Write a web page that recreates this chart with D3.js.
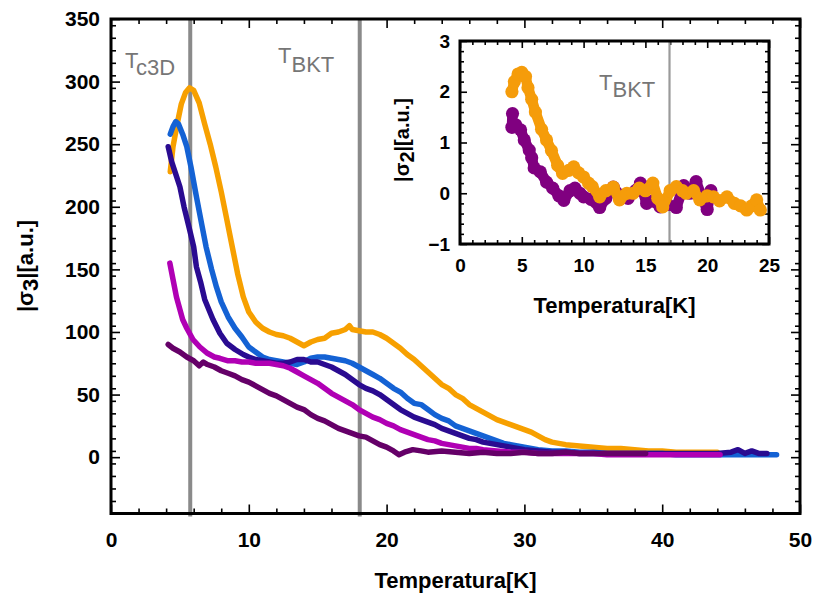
<!DOCTYPE html>
<html><head><meta charset="utf-8">
<script src="https://cdn.jsdelivr.net/npm/d3@7"></script>
<style>
body{margin:0;background:#fff}
svg{display:block}
text{font-family:"Liberation Sans",Arial,Helvetica,sans-serif}
</style>
</head><body>
<svg id="chart" width="815" height="600"></svg>
<script>
// ---------- main panel data: |sigma3| vs temperature ----------
const orangeT=[4.3,4.5,4.8,5.1,5.4,5.7,6.0,6.4,6.8,7.2,7.6,8.0,8.4,8.8,9.2,9.6,10.0,10.5,11.0,11.5,12.0,12.5,13.0,13.5,14.0,14.5,15.0,15.5,16.0,16.5,17.0,17.3,17.5,18.0,18.5,19.0,19.5,20.0,20.5,21.0,21.5,22.0,22.5,23.0,23.5,24.0,24.5,25.0,25.5,26.0,26.5,27.0,27.5,28.0,28.5,29.0,29.5,30.0,30.5,31.0,31.5,32.0,33,34,35,36,37,38,39,40,41,42,43,44];
const orangeV=[228,248,266,282,291,295,293,283,266,250,232,212,190,168,146,128,116,108,103,100,98,97,95,92,89,92,94,95,99,100,102,105,102,101,100,100,98,95,91,87,82,78,73,68,63,58,55,50,47,42,39,36,33,30,28,26,24,22,20,17,14,12,10,9,8,7,7,6,5,5,4,4,4,4];

const blueT=[4.3,4.5,4.7,4.9,5.2,5.5,5.8,6.2,6.6,6.9,7.3,7.65,8.0,8.5,9.0,9.5,10.0,10.5,11.0,11.5,12.0,12.5,13.0,13.5,14.0,14.5,15.0,15.5,16.0,16.5,17.0,17.5,18.0,18.5,19.0,19.5,20.0,20.5,21.0,21.5,22.0,22.5,23,23.5,24,24.5,25,25.5,26,26.5,27,27.5,28,28.5,29,29.5,30,31,32,33,34,35,36,37,38,39,40,41,42,43,44,45,46,47,48,48.3];
const blueV=[258,264,268,266,258,248,232,208,185,168,150,136,124,112,103,96,88,84,80,78,77,76,75,74,76,79,80,80,79,78,77,75,72,69,66,63,59,55,52,47,43,42,38,34,31,29,25,23,21,19,17,15,13,11,10,9,8,6,5,5,4,4,3,3,3,3,3,2,2,2,2,2,2,2,2,2];

const indigoT=[4.15,4.4,4.7,5.0,5.3,5.7,6.0,6.2,6.5,6.8,7.4,7.9,8.4,9.0,9.6,10.0,10.5,11.0,11.5,12.0,12.5,13.0,13.5,14.0,14.5,15.0,15.5,16.0,16.5,17.0,17.5,18.0,18.5,19.0,19.5,20.0,20.5,21.0,21.5,22.0,22.5,23,23.5,24,24.5,25,25.5,26,26.5,27,27.5,28,28.5,29,29.5,30,31,32,33,34,35,36,37,38,39,40,41,42,43,44,45,45.5,46,46.5,47,47.6];
const indigoV=[248,236,226,216,200,182,168,152,140,126,110,99,91,86,82,80,78,77,76,75,75,76,78,78,76,76,74,72,69,66,62,58,55,53,50,46,42,38,35,32,30,28,26,23,21,19,17,15,14,12,11,10,9,8,7,6,5,4,4,3,3,3,3,3,3,3,3,3,3,3,4,6,3,5,3,3];

const magentaT=[4.27,4.5,4.75,5.0,5.2,5.5,5.95,6.45,7.0,7.5,7.9,8.5,9.0,9.5,10.0,10.5,11.0,11.5,12.0,12.5,13.0,13.5,14.0,14.5,15.0,15.5,16.0,16.5,17.0,17.5,18.0,18.5,19.0,19.5,20.0,20.5,21.0,21.5,22.0,22.5,23,23.5,24,24.5,25,25.5,26,26.5,27,28,29,30,31,32,33,34,35,36,37,38,39,40,41,42,43,44.2];
const magentaV=[155,142,128,118,110,103,94,88,83,80,79,77,77,76,76,75,75,75,74,73,71,68,65,62,59,55,51,48,45,42,38,35,32,30,27,25,22,20,18,16,14,13,11,10,9,8,7,7,6,5,4,4,3,3,3,3,3,2,2,2,2,2,2,2,2,2];

const plumT=[4.15,4.5,5.0,5.5,6.0,6.4,6.7,7.0,7.5,8.0,8.5,9.0,9.5,10.0,10.5,11.0,11.5,12.0,12.5,13.0,13.5,14.0,14.5,15.0,15.5,16.0,16.5,17.0,17.5,18.0,18.5,19.0,19.5,20.0,20.5,20.9,21.3,21.9,22.5,23,24,25,26,27,28,29,30,31,32,33,34,35,36,37,38,38.8];
const plumV=[90,87,84,80,77,73,76,74,72,69,67,65,62,60,57,54,51,49,46,43,40,38,34,31,29,26,23,21,19,17,16,13,10,8,5,2,4,6,5,4,5,4,3,4,3,3,4,3,3,4,3,3,3,3,3,3];

// ---------- inset data: |sigma2| vs temperature ----------
const insetPurpleT=[4.25,4.2,4.5,4.9,5.2,5.6,5.8,6.0,6.5,7.0,7.5,8.0,8.4,8.9,9.3,9.7,10.0,10.6,11.3,11.8,12.4,13.0,13.6,14.2,14.6,15.1,15.6,16.2,16.8,17.5,18.1,18.6,19.1,19.6,20.0,20.3];
const insetPurpleV=[1.57,1.3,1.35,1.25,1.05,0.85,0.7,0.5,0.42,0.22,0.1,-0.05,-0.14,0.05,0.1,0.0,-0.07,-0.12,-0.28,-0.1,0.12,-0.05,-0.1,0.05,0.2,-0.2,-0.15,-0.27,-0.22,-0.28,0.15,0.0,0.23,-0.1,-0.32,0.05];

const insetOrangeT=[4.2,4.4,4.7,5.0,5.3,5.5,5.8,6.1,6.6,7.0,7.4,7.9,8.3,8.8,9.2,9.6,10.0,10.4,10.7,11.3,11.8,12.4,12.9,13.5,14.0,14.5,15.0,15.6,16.0,16.4,17.0,17.5,18.0,18.3,18.9,19.4,20.0,20.5,21.0,21.6,22.2,22.7,23.2,23.6,24.0,24.3];
const insetOrangeV=[2.0,2.2,2.35,2.38,2.3,2.08,1.85,1.6,1.26,1.05,0.84,0.55,0.39,0.45,0.52,0.4,0.32,0.2,0.13,-0.07,0.05,0.12,-0.13,0.0,0.0,0.1,0.05,0.2,-0.1,-0.27,0.05,0.13,0.05,0.0,0.05,-0.13,-0.05,-0.07,-0.15,-0.07,-0.2,-0.25,-0.33,-0.25,-0.13,-0.33];

// ---------- ticks and markers ----------
const mainXTicks=[0,10,20,30,40,50];
const mainYTicks=[0,50,100,150,200,250,300,350];
const insetXTicks=[0,5,10,15,20,25];
const insetYTicks=[-1,0,1,2,3];
const mainMarkers=[5.75,18.05];
const insetMarkers=[16.95];

const mainSeries=[
  {T:orangeT,V:orangeV,color:"#f7a000"},
  {T:blueT,V:blueV,color:"#1462d4"},
  {T:indigoT,V:indigoV,color:"#2a0b91"},
  {T:magentaT,V:magentaV,color:"#b000b4"},
  {T:plumT,V:plumV,color:"#650068"}
];
const insetSeries=[
  {T:insetPurpleT,V:insetPurpleV,color:"#800080"},
  {T:insetOrangeT,V:insetOrangeV,color:"#f59c0a"}
];

const svg=d3.select("#chart");
const d3range=(a,b,s)=>d3.range(a,b+s/2,s);
const fmt=d3.format("~g");

function panel(g,opt){
  const x=d3.scaleLinear().domain(opt.xd).range(opt.xr);
  const y=d3.scaleLinear().domain(opt.yd).range(opt.yr);
  const [x0,x1]=opt.xr, [y0,y1]=[opt.yr[1],opt.yr[0]];
  g.append("rect").attr("x",x0).attr("y",y0).attr("width",x1-x0).attr("height",y1-y0).attr("fill","#fff");
  const axes=g.append("g").attr("class","axes");
  function addAxis(axisFn,scale,vals,size,pos,labels,pad,fs){
    const a=axisFn(scale).tickValues(vals).tickSize(-size).tickPadding(pad);
    a.tickFormat(labels?fmt:"");
    const ag=axes.append("g").attr("transform",pos).call(a);
    ag.select(".domain").remove();
    ag.selectAll("line").attr("stroke","#000").attr("stroke-width",1.6);
    ag.selectAll("text").attr("font-size",fs).attr("font-weight","bold").attr("fill","#000");
  }
  const minX=d3range(opt.xd[0],opt.xd[1],opt.xminor).filter(v=>!opt.xt.some(t=>Math.abs(t-v)<1e-6));
  const minY=d3range(opt.yd[0],opt.yd[1],opt.yminor).filter(v=>!opt.yt.some(t=>Math.abs(t-v)<1e-6));
  addAxis(d3.axisBottom,x,opt.xt,opt.maj,`translate(0,${y1})`,true,opt.xpad,opt.fs);
  addAxis(d3.axisBottom,x,minX,opt.min,`translate(0,${y1})`,false,0,opt.fs);
  addAxis(d3.axisTop,x,opt.xt,opt.maj,`translate(0,${y0})`,false,0,opt.fs);
  addAxis(d3.axisTop,x,minX,opt.min,`translate(0,${y0})`,false,0,opt.fs);
  addAxis(d3.axisLeft,y,opt.yt,opt.maj,`translate(${x0},0)`,true,opt.ypad,opt.fs);
  addAxis(d3.axisLeft,y,minY,opt.min,`translate(${x0},0)`,false,0,opt.fs);
  addAxis(d3.axisRight,y,opt.yt,opt.maj,`translate(${x1},0)`,false,0,opt.fs);
  addAxis(d3.axisRight,y,minY,opt.min,`translate(${x1},0)`,false,0,opt.fs);
  return {x,y,x0,x1,y0,y1};
}

// ---------- main panel ----------
const gm=svg.append("g");
const M=panel(gm,{xd:[0,50],xr:[111,800],yd:[-45,350],yr:[513.5,19],
  xt:mainXTicks,yt:mainYTicks,xminor:2,yminor:10,maj:9,min:5,xpad:19,ypad:11,fs:21});

gm.selectAll("line.marker").data(mainMarkers).join("line").attr("class","marker")
  .attr("x1",d=>M.x(d)).attr("x2",d=>M.x(d)).attr("y1",M.y0).attr("y2",M.y1+3)
  .attr("stroke","#8a8a8a").attr("stroke-width",4);

const lineM=d3.line().x(d=>M.x(d[0])).y(d=>M.y(d[1]));
gm.selectAll("path.series").data(mainSeries).join("path").attr("class","series")
  .attr("d",s=>lineM(s.T.map((t,i)=>[t,s.V[i]])))
  .attr("fill","none").attr("stroke",s=>s.color).attr("stroke-width",5.5)
  .attr("stroke-linejoin","round").attr("stroke-linecap","round");

gm.append("rect").attr("x",M.x0).attr("y",M.y0).attr("width",M.x1-M.x0).attr("height",M.y1-M.y0)
  .attr("fill","none").attr("stroke","#000").attr("stroke-width",3);

function tLabel(g,xp,yp,sub,dy,fs){
  const t=g.append("text").attr("x",xp).attr("y",yp).attr("font-size",fs).attr("fill","#767676");
  t.append("tspan").text("T");
  t.append("tspan").attr("dy",dy).text(sub);
}
tLabel(gm,125,68,"c3D",7,22);
tLabel(gm,278,63,"BKT",9,22);

// axis titles
gm.append("text").attr("x",455.5).attr("y",588).attr("text-anchor","middle")
  .attr("font-size",22).attr("font-weight","bold").text("Temperatura[K]");
function yTitle(g,xp,yp,sub,fs){
  const t=g.append("text").attr("transform",`translate(${xp},${yp}) rotate(-90)`)
    .attr("text-anchor","middle").attr("font-size",fs).attr("font-weight","bold");
  t.append("tspan").text("|σ");
  t.append("tspan").attr("dy",5).text(sub);
  t.append("tspan").attr("dy",-5).text("|[a.u.]");
}
yTitle(gm,33,266,"3",22);

// ---------- inset ----------
const gi=svg.append("g");
const I=panel(gi,{xd:[0,25],xr:[460,769],yd:[-1,3],yr:[244,41],
  xt:insetXTicks,yt:insetYTicks,xminor:1,yminor:0.2,maj:7,min:4,xpad:15,ypad:10,fs:19});

gi.selectAll("line.marker").data(insetMarkers).join("line").attr("class","marker")
  .attr("x1",d=>I.x(d)).attr("x2",d=>I.x(d)).attr("y1",I.y0).attr("y2",I.y1)
  .attr("stroke","#9a9a9a").attr("stroke-width",2.2);

const lineI=d3.line().x(d=>I.x(d[0])).y(d=>I.y(d[1]));
insetSeries.forEach(s=>{
  const pts=s.T.map((t,i)=>[t,s.V[i]]);
  gi.append("path").attr("d",lineI(pts)).attr("fill","none").attr("stroke",s.color)
    .attr("stroke-width",10.5).attr("stroke-linejoin","round").attr("stroke-linecap","round");
  gi.append("g").selectAll("circle").data(pts).join("circle")
    .attr("cx",d=>I.x(d[0])).attr("cy",d=>I.y(d[1])).attr("r",6.6).attr("fill",s.color);
});

gi.append("rect").attr("x",I.x0).attr("y",I.y0).attr("width",I.x1-I.x0).attr("height",I.y1-I.y0)
  .attr("fill","none").attr("stroke","#000").attr("stroke-width",3);

tLabel(gi,599,90,"BKT",7,22);
gi.append("text").attr("x",614.5).attr("y",313).attr("text-anchor","middle")
  .attr("font-size",22).attr("font-weight","bold").text("Temperatura[K]");
yTitle(gi,409,140,"2",20);
</script>
</body></html>
